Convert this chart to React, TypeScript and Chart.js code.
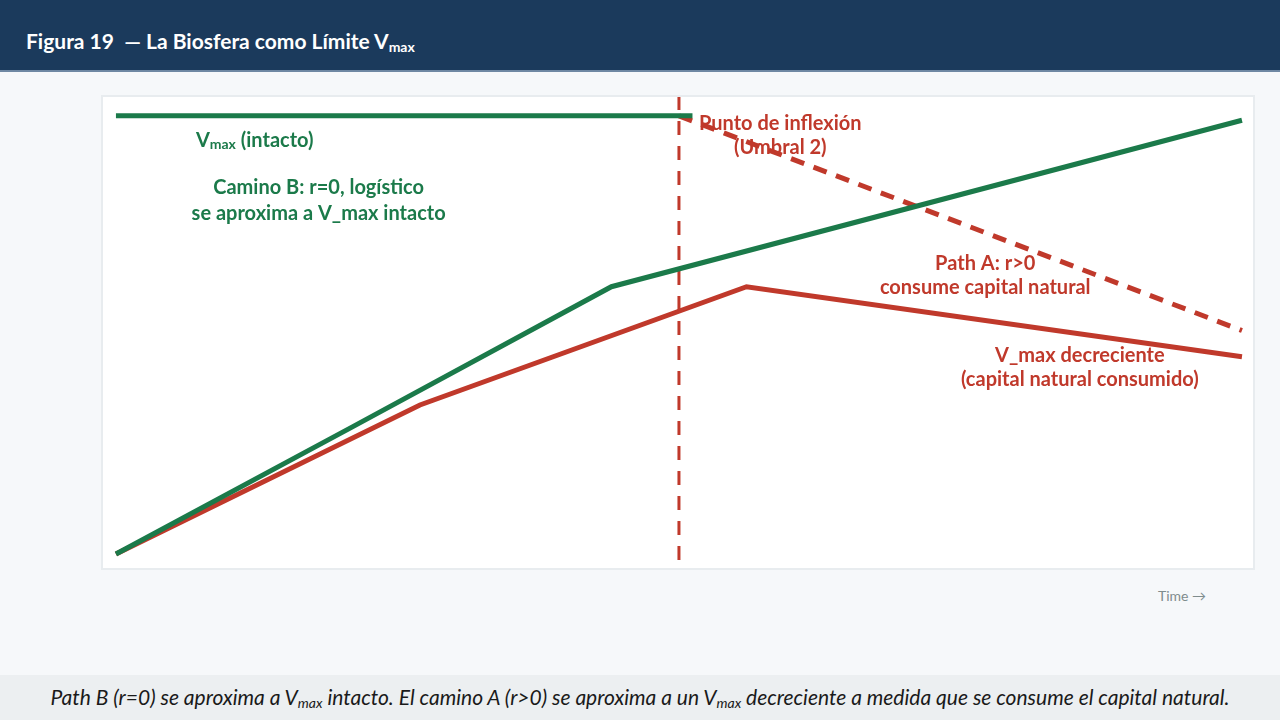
import React, { useEffect, useRef } from "react";
import { Chart, registerables } from "chart.js";

Chart.register(...registerables);

// ---- data ----
const timeB = [0, 2.1, 4.4, 10];
const pathB = [0, 29, 61, 99];
const timeA = [0, 2.7, 5.6, 10];
const pathA = [0, 34, 61, 45];
const timeIntact = [0, 5.12];
const vmaxIntact = [100, 100];
const timeDecl = [5, 10];
const vmaxDecl = [100, 51];
const tippingTime = 5;
const tippingRange = [-1.4, 104.3];

const GREEN = "#1b7a4a";
const RED = "#c0392b";
const FONT = "Lato, 'Open Sans', sans-serif";

const pts = (xs: number[], ys: number[]) => xs.map((x, i) => ({ x, y: ys[i] }));

type Label = { parts: { t: string; sub?: boolean }[]; x: number; y: number; color: string; align: "left" | "center" };
const labels: Label[] = [
  { parts: [{ t: "V" }, { t: "max", sub: true }, { t: " (intacto)" }], x: 0.71, y: 94.4, color: GREEN, align: "left" },
  { parts: [{ t: "Camino B: r=0, logístico" }], x: 1.8, y: 83.7, color: GREEN, align: "center" },
  { parts: [{ t: "se aproxima a V_max intacto" }], x: 1.8, y: 77.8, color: GREEN, align: "center" },
  { parts: [{ t: "Punto de inflexión" }], x: 5.9, y: 98.2, color: RED, align: "center" },
  { parts: [{ t: "(Umbral 2)" }], x: 5.9, y: 92.7, color: RED, align: "center" },
  { parts: [{ t: "Path A: r>0" }], x: 7.72, y: 66.4, color: RED, align: "center" },
  { parts: [{ t: "consume capital natural" }], x: 7.72, y: 60.9, color: RED, align: "center" },
  { parts: [{ t: "V_max decreciente" }], x: 8.56, y: 45.2, color: RED, align: "center" },
  { parts: [{ t: "(capital natural consumido)" }], x: 8.56, y: 39.7, color: RED, align: "center" },
];

const labelPlugin = {
  id: "labels",
  beforeDatasetsDraw(chart: any) {
    const { ctx, scales } = chart;
    ctx.save();
    ctx.textBaseline = "middle";
    for (const l of labels) {
      const main = `bold 20px ${FONT}`;
      const small = `bold 14px ${FONT}`;
      let total = 0;
      for (const p of l.parts) {
        ctx.font = p.sub ? small : main;
        total += ctx.measureText(p.t).width;
      }
      let x = scales.x.getPixelForValue(l.x);
      const y = scales.y.getPixelForValue(l.y);
      if (l.align === "center") x -= total / 2;
      ctx.fillStyle = l.color;
      ctx.textAlign = "left";
      for (const p of l.parts) {
        ctx.font = p.sub ? small : main;
        ctx.fillText(p.t, x, p.sub ? y + 4 : y);
        x += ctx.measureText(p.t).width;
      }
    }
    ctx.restore();
  },
};

function ChartBox() {
  const ref = useRef<HTMLCanvasElement>(null);
  useEffect(() => {
    if (!ref.current) return;
    const chart = new Chart(ref.current, {
      type: "line",
      data: {
        datasets: [
          { data: pts(timeIntact, vmaxIntact), borderColor: GREEN, borderWidth: 5 },
          { data: pts(timeB, pathB), borderColor: GREEN, borderWidth: 5 },
          { data: pts(timeA, pathA), borderColor: RED, borderWidth: 5 },
          { data: pts(timeDecl, vmaxDecl), borderColor: RED, borderWidth: 5, borderDash: [14, 10] },
          {
            data: pts([tippingTime, tippingTime], tippingRange),
            borderColor: RED,
            borderWidth: 3,
            borderDash: [14, 11],
          },
        ].map((d) => ({ ...d, pointRadius: 0, tension: 0, fill: false, clip: false } as any)),
      },
      options: {
        animation: false,
        responsive: false,
        devicePixelRatio: 1,
        layout: { padding: 0 },
        plugins: { legend: { display: false }, tooltip: { enabled: false } },
        scales: {
          x: { type: "linear", min: -0.115, max: 10.098, display: false },
          y: { type: "linear", min: -3.2, max: 104.3, display: false },
        },
      },
      plugins: [labelPlugin],
    });
    return () => chart.destroy();
  }, []);
  return <canvas ref={ref} width={1150} height={471} style={{ display: "block" }} />;
}

export default function App() {
  return (
    <div style={{ position: "fixed", inset: 0, width: 1280, height: 720, background: "#f6f8fa", overflow: "hidden", fontFamily: FONT }}>
      <div
        style={{
          position: "absolute", left: 0, top: 0, width: 1280, height: 72,
          background: "#1b3a5c", borderBottom: "2px solid #6f88a3", boxSizing: "border-box",
        }}
      >
        <div style={{ position: "absolute", left: 26, top: 28, color: "#fff", fontWeight: 700, fontSize: 21, lineHeight: "26px", whiteSpace: "pre" }}>
          {"Figura 19  — La Biosfera como Límite V"}
          <sub style={{ fontSize: 14, verticalAlign: "-3px" }}>max</sub>
        </div>
      </div>
      <div
        style={{
          position: "absolute", left: 101, top: 95, width: 1154, height: 475,
          border: "2px solid #e8ecef", boxSizing: "border-box", background: "#fff",
        }}
      >
        <ChartBox />
      </div>
      <div style={{ position: "absolute", left: 1158, top: 587, color: "#7f8c8d", fontSize: 14, lineHeight: "18px" }}>Time →</div>
      <div
        style={{
          position: "absolute", left: 0, top: 675, width: 1280, height: 45,
          background: "#eceff1", display: "flex", alignItems: "center", justifyContent: "center",
        }}
      >
        <div style={{ fontStyle: "italic", fontSize: 21, color: "#1a1a1a", whiteSpace: "nowrap" }}>
          Path B (r=0) se aproxima a V<sub style={{ fontSize: 14, verticalAlign: "-3px" }}>max</sub> intacto. El camino A (r&gt;0) se aproxima a un V
          <sub style={{ fontSize: 14, verticalAlign: "-3px" }}>max</sub> decreciente a medida que se consume el capital natural.
        </div>
      </div>
    </div>
  );
}
